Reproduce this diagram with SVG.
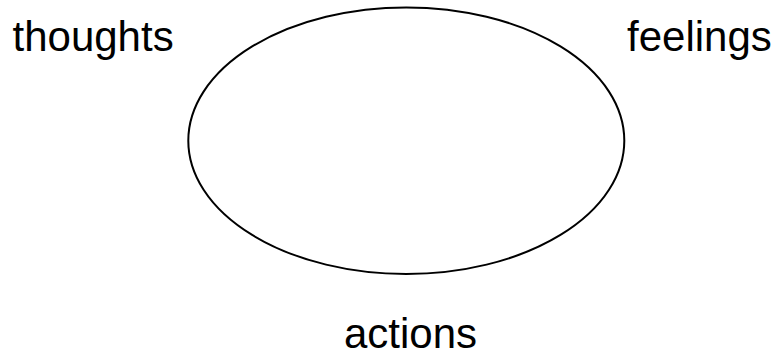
<svg xmlns="http://www.w3.org/2000/svg" width="777" height="358" viewBox="0 0 777 358">
<style>
.lbl{font-family:"Liberation Sans",Arial,sans-serif;font-size:42px;fill:#000}
.shape{fill:none;stroke:#000;stroke-width:2}
</style>
<rect width="777" height="358" fill="#fff"/>
<g id="cycle"><ellipse class="shape" cx="406.3" cy="140.7" rx="218" ry="133.3"/></g>
<g id="connectors"></g>
<g id="thoughts"><text class="lbl" x="12.5" y="51">thoughts</text></g>
<g id="feelings"><text class="lbl" x="627" y="51">feelings</text></g>
<g id="actions"><text class="lbl" x="344" y="348">actions</text></g>
</svg>
